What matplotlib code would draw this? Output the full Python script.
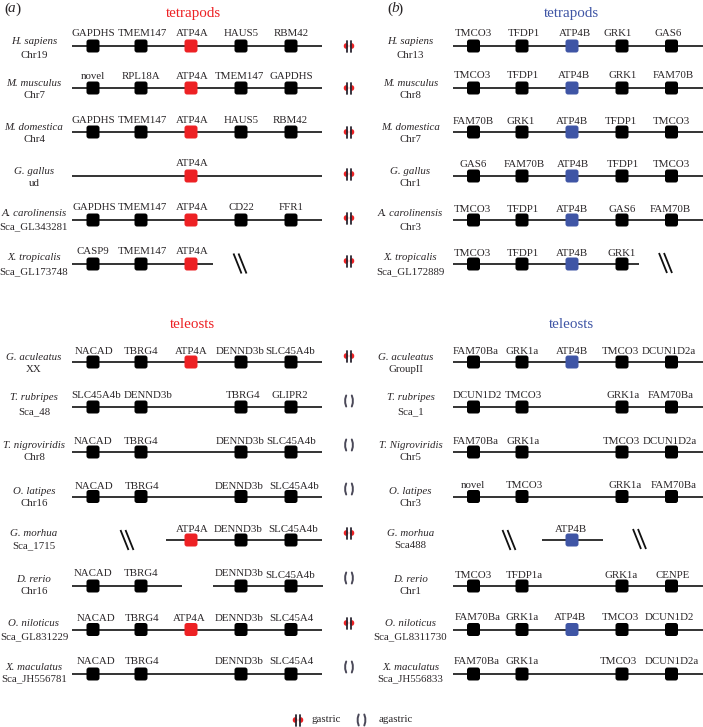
#!/usr/bin/env python3
"""Conserved synteny around ATP4A / ATP4B in tetrapods and teleosts."""
import matplotlib
matplotlib.use("Agg")
import matplotlib.pyplot as plt
from matplotlib.patches import Ellipse, FancyBboxPatch

plt.rcParams["font.family"] = ["Liberation Serif", "DejaVu Serif"]

RED = "#ed2124"
BLUE = "#3f55a5"
TXT = "#2a2628"

# species, chromosome, genes per slot (None = no gene)
A_TETRA_SPECIES = ["H. sapiens", "M. musculus", "M. domestica", "G. gallus", "A. carolinensis", "X. tropicalis"]
A_TETRA_CHR = ["Chr19", "Chr7", "Chr4", "ud", "Sca_GL343281", "Sca_GL173748"]
A_TETRA_GENES = [
    ["GAPDHS", "TMEM147", "ATP4A", "HAUS5", "RBM42"],
    ["novel", "RPL18A", "ATP4A", "TMEM147", "GAPDHS"],
    ["GAPDHS", "TMEM147", "ATP4A", "HAUS5", "RBM42"],
    [None, None, "ATP4A", None, None],
    ["GAPDHS", "TMEM147", "ATP4A", "CD22", "FFR1"],
    ["CASP9", "TMEM147", "ATP4A", None, None],
]
A_TETRA_GASTRIC = [True, True, True, True, True, True]

A_TELEO_SPECIES = ["G. aculeatus", "T. rubripes", "T. nigroviridis", "O. latipes", "G. morhua", "D. rerio",
                   "O. niloticus", "X. maculatus"]
A_TELEO_CHR = ["XX", "Sca_48", "Chr8", "Chr16", "Sca_1715", "Chr16", "Sca_GL831229", "Sca_JH556781"]
A_TELEO_GENES = [
    ["NACAD", "TBRG4", "ATP4A", "DENND3b", "SLC45A4b"],
    ["SLC45A4b", "DENND3b", None, "TBRG4", "GLIPR2"],
    ["NACAD", "TBRG4", None, "DENND3b", "SLC45A4b"],
    ["NACAD", "TBRG4", None, "DENND3b", "SLC45A4b"],
    [None, None, "ATP4A", "DENND3b", "SLC45A4b"],
    ["NACAD", "TBRG4", None, "DENND3b", "SLC45A4b"],
    ["NACAD", "TBRG4", "ATP4A", "DENND3b", "SLC45A4"],
    ["NACAD", "TBRG4", None, "DENND3b", "SLC45A4"],
]
A_TELEO_GASTRIC = [True, False, False, False, True, False, True, False]

B_TETRA_SPECIES = A_TETRA_SPECIES
B_TETRA_CHR = ["Chr13", "Chr8", "Chr7", "Chr1", "Chr3", "Sca_GL172889"]
B_TETRA_GENES = [
    ["TMCO3", "TFDP1", "ATP4B", "GRK1", "GAS6"],
    ["TMCO3", "TFDP1", "ATP4B", "GRK1", "FAM70B"],
    ["FAM70B", "GRK1", "ATP4B", "TFDP1", "TMCO3"],
    ["GAS6", "FAM70B", "ATP4B", "TFDP1", "TMCO3"],
    ["TMCO3", "TFDP1", "ATP4B", "GAS6", "FAM70B"],
    ["TMCO3", "TFDP1", "ATP4B", "GRK1", None],
]

B_TELEO_SPECIES = ["G. aculeatus", "T. rubripes", "T. Nigroviridis", "O. latipes", "G. morhua", "D. rerio",
                   "O. niloticus", "X. maculatus"]
B_TELEO_CHR = ["GroupII", "Sca_1", "Chr5", "Chr3", "Sca488", "Chr1", "Sca_GL8311730", "Sca_JH556833"]
B_TELEO_GENES = [
    ["FAM70Ba", "GRK1a", "ATP4B", "TMCO3", "DCUN1D2a"],
    ["DCUN1D2", "TMCO3", None, "GRK1a", "FAM70Ba"],
    ["FAM70Ba", "GRK1a", None, "TMCO3", "DCUN1D2a"],
    ["novel", "TMCO3", None, "GRK1a", "FAM70Ba"],
    [None, None, "ATP4B", None, None],
    ["TMCO3", "TFDP1a", None, "GRK1a", "CENPE"],
    ["FAM70Ba", "GRK1a", "ATP4B", "TMCO3", "DCUN1D2"],
    ["FAM70Ba", "GRK1a", None, "TMCO3", "DCUN1D2a"],
]

# layout, in figure pixels
TETRA_Y = [46, 88, 132, 176, 220, 264]
TELEO_Y = [362, 407, 452, 496.5, 540, 586, 629.5, 674]
TETRA_ICON_Y = [46, 88, 132, 174, 218, 261]
TELEO_ICON_Y = [356, 401, 445, 489, 533, 578, 623, 667]
TETRA_NAME_DY = [(-5, 9), (-5, 8), (-5, 7.5), (-5, 8), (-6, 7), (-6, 8)]
TELEO_NAME_DY = [(-4, 8), (-9, 5), (-6, 6), (-5, 7), (-7, 6), (-7, 6), (-6, 7), (-7, 5)]
A_SLOTS = [93, 141, 191, 241, 291]
B_SLOTS = [473.5, 522, 572, 622, 671.5]
A_LINE = (72, 322)
B_LINE = (453, 703)
A_LABEL_X = 34
B_LABEL_X = 410.5
ICON_X = 349

# gene labels do not sit exactly over their boxes
A_TETRA_DY = [-12, -11.5, -11.5, -12, -13, -12]
A_TETRA_DX = [[0, 1, 1, 0, 0], [0, 0, 1, -2, 0], [0, 1, 1, 0, -1], [0, 0, 1, 0, 0], [1, 1.5, 1, 0, 0], [0, 1, 1, 0, 0]]
A_TELEO_DY = [-10, -11, -11, -10, -11, -12, -11, -12]
A_TELEO_DX = [[1, 0, 0, -1, -1], [3, 7, 0, 2, -1], [0, 0, 0, -1, 0], [1, 1, 0, -2, 3], [0, 0, 1, -3, 2],
              [0, 0, 0, -2, -1], [3, 1, -2, -2, 0], [3, 1, 0, -2, 0]]
B_TETRA_DY = [-12, -12.5, -11, -11.5, -11, -10.5]
B_TETRA_DX = [[0, 2, 3, -4, -3.5], [-1.5, 1, 2, 1, 1.5], [0, -1, 0, -1, 0], [0, 2, 1, 1, 0], [-1.5, 1, 0, 0, -1.5],
              [-1.5, 1, 0, 0, 0]]
B_TELEO_DY = [-11, -11, -11, -11, -11, -11, -12.5, -12]
B_TELEO_DX = [[2.5, 0, 0, -2, -2.5], [3.5, 1, 0, 1, -0.5], [2.5, 1, 0, -1, -1.5], [-0.5, 2, 0, 3, 2.5],
              [0, 0, -1, 0, 0], [-0.5, 2, 0, -1, 1.5], [4.5, 0, -2, -2, -2.5], [3.5, 0, 0, -4, 0.5]]

fig = plt.figure(figsize=(7.03, 7.27), dpi=100)
ax = fig.add_axes([0, 0, 1, 1])
ax.set_xlim(0, 703)
ax.set_ylim(727, 0)
ax.axis("off")


def breakmark(x, y):
    for dx in (-2.5, 2.5):
        ax.plot([x + dx - 4, x + dx + 4], [y - 10, y + 10], color="#111111", lw=1.3, solid_capstyle="butt")


def chromosome(x, y, gastric):
    for side in (-1, 1):
        if gastric:
            ax.add_patch(Ellipse((x + side * 3, y), 4.5, 5.5, color=RED, lw=0, zorder=2))
            ax.plot([x + side * 2.4] * 2, [y - 5.5, y + 5.5], color="#2a2530", lw=1.3, zorder=3,
                    solid_capstyle="round")
        else:
            xs = [x + side * 2.8, x + side * 3.8, x + side * 3.8, x + side * 2.8]
            ax.plot(xs, [y - 5.5, y - 2, y + 2, y + 5.5], color="#4a4858", lw=1.4, zorder=3,
                    solid_capstyle="round")


def row(y, species, chrom, genes, slots, line, label_x, color, dx, dy, name_dy, gaps=()):
    for x0, x1 in (gaps if gaps else [line]):
        ax.plot([x0, x1], [y, y], color="#111111", lw=1.2, solid_capstyle="butt", zorder=1)
    for x, gene, nudge in zip(slots, genes, dx):
        if gene is None:
            continue
        fc = color if gene.startswith("ATP4") else "black"
        ax.add_patch(FancyBboxPatch((x - 4.5, y - 4.5), 9, 9, boxstyle="round,pad=2,rounding_size=2.5",
                                    fc=fc, ec="none", zorder=2))
        extra = 2 if (species, gene) == ("D. rerio", "SLC45A4b") else 0
        ax.text(x + nudge, y + dy + extra, gene, ha="center", va="center", fontsize=7.8, color=TXT)
    if species == "G. aculeatus" and label_x == B_LABEL_X:
        label_x -= 5
    ax.text(label_x, y + name_dy[0], species, ha="center", va="center", fontsize=7.8, style="italic", color=TXT)
    ax.text(label_x, y + name_dy[1], chrom, ha="center", va="center", fontsize=7.8, color=TXT)


# panel a
ax.text(4, 9, "(", ha="left", va="center", fontsize=11, color=TXT)
ax.text(8, 9, "a", ha="left", va="center", fontsize=11, style="italic", color=TXT)
ax.text(15.5, 9, ")", ha="left", va="center", fontsize=11, color=TXT)
ax.text(193, 13, "tetrapods", ha="center", va="center", fontsize=10.8, color=RED)
ax.text(192, 325, "teleosts", ha="center", va="center", fontsize=10.8, color=RED)

for i, y in enumerate(TETRA_Y):
    gaps = [(72, 213)] if A_TETRA_SPECIES[i] == "X. tropicalis" else ()
    row(y, A_TETRA_SPECIES[i], A_TETRA_CHR[i], A_TETRA_GENES[i], A_SLOTS, A_LINE, A_LABEL_X, RED,
        A_TETRA_DX[i], A_TETRA_DY[i], TETRA_NAME_DY[i], gaps)
    chromosome(ICON_X, TETRA_ICON_Y[i], A_TETRA_GASTRIC[i])
breakmark(240, 263.5)

for i, y in enumerate(TELEO_Y):
    gaps = ()
    if A_TELEO_SPECIES[i] == "G. morhua":
        gaps = [(166, 322)]
        breakmark(127, y)
    elif A_TELEO_SPECIES[i] == "D. rerio":
        gaps = [(72, 182), (213, 323)]
    row(y, A_TELEO_SPECIES[i], A_TELEO_CHR[i], A_TELEO_GENES[i], A_SLOTS, A_LINE, A_LABEL_X, RED,
        A_TELEO_DX[i], A_TELEO_DY[i], TELEO_NAME_DY[i], gaps)
    chromosome(ICON_X, TELEO_ICON_Y[i], A_TELEO_GASTRIC[i])

# panel b
ax.text(387, 9, "(", ha="left", va="center", fontsize=11, color=TXT)
ax.text(391, 9, "b", ha="left", va="center", fontsize=11, style="italic", color=TXT)
ax.text(397.5, 9, ")", ha="left", va="center", fontsize=11, color=TXT)
ax.text(571, 13, "tetrapods", ha="center", va="center", fontsize=10.8, color=BLUE)
ax.text(571, 325, "teleosts", ha="center", va="center", fontsize=10.8, color=BLUE)

for i, y in enumerate(TETRA_Y):
    gaps = [(453, 639)] if B_TETRA_CHR[i] == "Sca_GL172889" else ()
    row(y, B_TETRA_SPECIES[i], B_TETRA_CHR[i], B_TETRA_GENES[i], B_SLOTS, B_LINE, B_LABEL_X, BLUE,
        B_TETRA_DX[i], B_TETRA_DY[i], TETRA_NAME_DY[i], gaps)
breakmark(665.5, 263)

for i, y in enumerate(TELEO_Y):
    gaps = ()
    if B_TELEO_SPECIES[i] == "G. morhua":
        gaps = [(542, 603)]
        breakmark(509, y)
        breakmark(639.5, y - 1)
    row(y, B_TELEO_SPECIES[i], B_TELEO_CHR[i], B_TELEO_GENES[i], B_SLOTS, B_LINE, B_LABEL_X, BLUE,
        B_TELEO_DX[i], B_TELEO_DY[i], TELEO_NAME_DY[i], gaps)

# legend
chromosome(298, 720, True)
ax.text(311, 720, "gastric", ha="left", va="center", fontsize=7.8, color=TXT)
chromosome(361.5, 720, False)
ax.text(379, 720, "agastric", ha="left", va="center", fontsize=7.8, color=TXT)

fig.savefig("out.png", dpi=100)
